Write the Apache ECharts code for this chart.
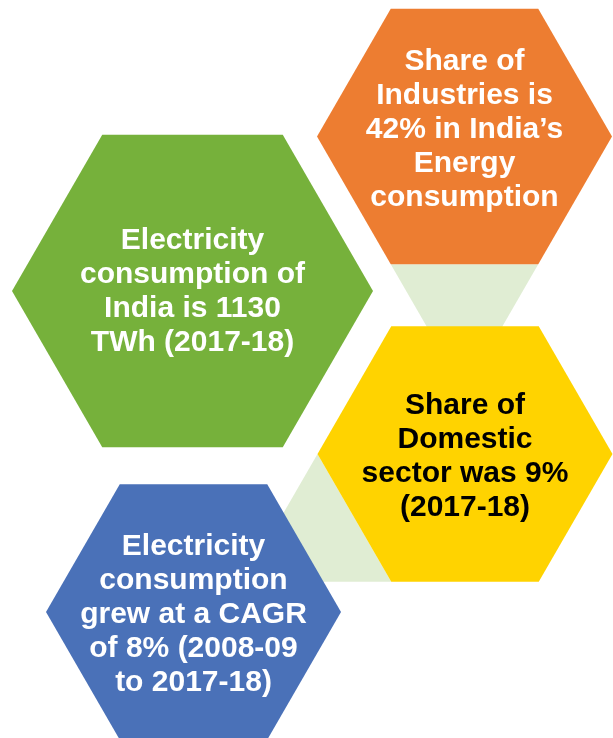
<!DOCTYPE html>
<html>
<head>
<meta charset="utf-8">
<script src="https://cdn.jsdelivr.net/npm/echarts@6/dist/echarts.min.js"></script>
<style>
  html, body { margin: 0; padding: 0; background: #fff; }
  #chart { width: 613px; height: 738px; }
</style>
</head>
<body>
<div id="chart"></div>
<script>
// hexagon facts (order: orange, green, yellow, blue)
const hexLabels = [
  'Share of\nIndustries is\n42% in India’s\nEnergy\nconsumption',
  'Electricity\nconsumption of\nIndia is 1130\nTWh (2017-18)',
  'Share of\nDomestic\nsector was 9%\n(2017-18)',
  'Electricity\nconsumption\ngrew at a CAGR\nof 8% (2008-09\nto 2017-18)'
]
const hexCenterX = [464.5, 192.5, 465, 193.5]
const hexCenterY = [136.5, 291, 454, 612]
const hexSide = [147.5, 180.5, 147.5, 147.5]

// light green connectors: which hexagon, and which edge (direction of edge middle, degrees, y down)
const connectorHex = [0, 2]
const connectorEdge = [90, 150]

const hexColors = ['#ED7D31', '#76B13B', '#FFD300', '#4A71B8']
const textColors = ['#fff', '#fff', '#000', '#fff']
const textShiftY = [-7, 1, 3, 3]

const chart = echarts.init(document.getElementById('chart'))

function hexPoints(cx, cy, s) {
  const pts = []
  for (let i = 0; i < 6; i++) {
    const a = Math.PI / 3 * i
    pts.push([cx + s * Math.cos(a), cy + s * Math.sin(a)])
  }
  return pts
}

const hexData = hexCenterX.map((x, i) => [x, hexCenterY[i], hexSide[i], i])
const connectorData = connectorHex.map((h, i) => [hexCenterX[h], hexCenterY[h], hexSide[h], connectorEdge[i]])

const option = {
  animation: false,
  grid: { left: 0, right: 0, top: 0, bottom: 0 },
  xAxis: { type: 'value', min: 0, max: 613, show: false },
  yAxis: { type: 'value', min: 0, max: 738, inverse: true, show: false },
  series: [
    {
      type: 'custom',
      clip: false,
      z: 1,
      data: connectorData,
      renderItem: (params, api) => {
        const cx = api.value(0)
        const cy = api.value(1)
        const s = api.value(2)
        const mid = api.value(3) * Math.PI / 180
        const a1 = mid - Math.PI / 6
        const a2 = mid + Math.PI / 6
        const apexD = s * Math.sqrt(3)
        const pts = [
          [cx + s * Math.cos(a1), cy + s * Math.sin(a1)],
          [cx + s * Math.cos(a2), cy + s * Math.sin(a2)],
          [cx + apexD * Math.cos(mid), cy + apexD * Math.sin(mid)]
        ].map(p => api.coord(p))
        return {
          type: 'polygon',
          shape: { points: pts },
          style: { fill: '#E0EDD3' }
        }
      }
    },
    {
      type: 'custom',
      clip: false,
      z: 2,
      data: hexData,
      renderItem: (params, api) => {
        const i = api.value(3)
        const pts = hexPoints(api.value(0), api.value(1), api.value(2)).map(p => api.coord(p))
        const c = api.coord([api.value(0), api.value(1) + textShiftY[i]])
        return {
          type: 'group',
          children: [
            {
              type: 'polygon',
              shape: { points: pts },
              style: { fill: hexColors[i] }
            },
            {
              type: 'text',
              x: c[0],
              y: c[1],
              style: {
                text: hexLabels[i],
                fill: textColors[i],
                fontSize: 30,
                fontWeight: 'bold',
                fontFamily: '"Liberation Sans", Arial, sans-serif',
                lineHeight: 34,
                align: 'center',
                verticalAlign: 'middle'
              }
            }
          ]
        }
      }
    }
  ]
}

chart.setOption(option)
</script>
</body>
</html>
